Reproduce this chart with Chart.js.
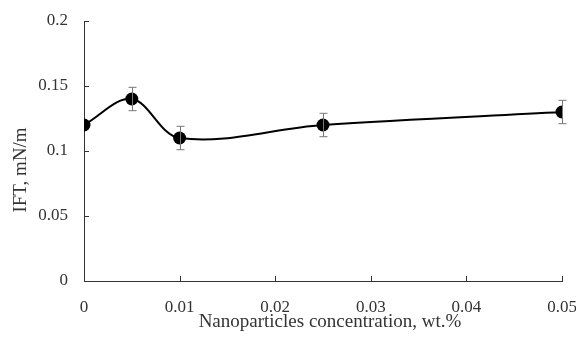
<!DOCTYPE html>
<html lang="en">
<head>
  <meta charset="UTF-8">
  <title>IFT vs nanoparticles concentration</title>
  <script src="https://cdn.jsdelivr.net/npm/chart.js@4"></script>
  <style>
    html, body { margin: 0; padding: 0; background: #fff; }
    #wrap { width: 576px; height: 340px; }
  </style>
</head>
<body>
<div id="wrap"><canvas id="iftChart"></canvas></div>
<script>
  const concentrations = [0, 0.005, 0.01, 0.025, 0.05];
  const iftValues = [0.12, 0.14, 0.11, 0.12, 0.13];
  const iftErrors = [0, 0.009, 0.009, 0.009, 0.009];
  const xTicks = [0, 0.01, 0.02, 0.03, 0.04, 0.05];
  const yTicks = [0, 0.05, 0.1, 0.15, 0.2];
  const xTitle = 'Nanoparticles concentration, wt.%';
  const yTitle = 'IFT, mN/m';

  const textColor = '#333';
  const font = 'Liberation Serif';

  // error bars, inward tick marks and axis titles
  const extras = {
    id: 'extras',
    afterDatasetsDraw(chart) {
      const ctx = chart.ctx;
      const xs = chart.scales.x, ys = chart.scales.y;
      ctx.save();
      ctx.strokeStyle = '#333';
      ctx.lineWidth = 1;
      xTicks.forEach(function (v) {
        const px = Math.round(xs.getPixelForValue(v)) + 0.5;
        ctx.beginPath();
        ctx.moveTo(px, ys.bottom);
        ctx.lineTo(px, ys.bottom - 5);
        ctx.stroke();
      });
      yTicks.forEach(function (v) {
        const py = Math.round(ys.getPixelForValue(v)) + 0.5;
        ctx.beginPath();
        ctx.moveTo(xs.left, py);
        ctx.lineTo(xs.left + 5, py);
        ctx.stroke();
      });
      ctx.strokeStyle = '#777';
      concentrations.forEach(function (c, i) {
        const e = iftErrors[i];
        if (!e) return;
        const px = Math.round(xs.getPixelForValue(c)) + 0.5;
        const top = ys.getPixelForValue(iftValues[i] + e);
        const bot = ys.getPixelForValue(iftValues[i] - e);
        ctx.beginPath();
        ctx.moveTo(px, top); ctx.lineTo(px, bot);
        ctx.moveTo(px - 4, top); ctx.lineTo(px + 4, top);
        ctx.moveTo(px - 4, bot); ctx.lineTo(px + 4, bot);
        ctx.stroke();
      });

      ctx.fillStyle = textColor;
      ctx.font = '19px "' + font + '"';
      ctx.textAlign = 'center';
      ctx.textBaseline = 'middle';
      ctx.fillText(xTitle, 330, 322);
      ctx.translate(21, 170);
      ctx.rotate(-Math.PI / 2);
      ctx.fillText(yTitle, 0, 0);
      ctx.restore();
    }
  };

  const noPad = s => { s.paddingLeft = 0; s.paddingRight = 0; s.paddingTop = 0; s.paddingBottom = 0; };

  new Chart('iftChart', {
    type: 'scatter',
    data: {
      datasets: [{
        data: concentrations.map((c, i) => ({ x: c, y: iftValues[i] })),
        showLine: true,
        borderColor: '#000',
        borderWidth: 2,
        backgroundColor: '#000',
        pointRadius: 6.5,
        pointBorderWidth: 0,
        pointHoverRadius: 6.5,
        tension: 0.35
      }]
    },
    options: {
      responsive: true,
      maintainAspectRatio: false,
      animation: false,
      layout: { padding: { top: 21, right: 14, left: 0, bottom: 0 } },
      plugins: { legend: { display: false }, tooltip: { enabled: false } },
      scales: {
        x: {
          type: 'linear',
          min: 0, max: 0.05,
          afterBuildTicks: s => { s.ticks = xTicks.map(v => ({ value: v })); },
          afterFit: s => { s.height = 59; noPad(s); },
          grid: { display: false, drawTicks: false },
          border: { display: true, color: '#333', width: 1 },
          ticks: { color: textColor, padding: 16, font: { family: font, size: 17 }, callback: v => String(v) }
        },
        y: {
          min: 0, max: 0.2,
          afterBuildTicks: s => { s.ticks = yTicks.map(v => ({ value: v })); },
          afterFit: s => { s.width = 84; noPad(s); },
          grid: { display: false, drawTicks: false },
          border: { display: true, color: '#333', width: 1 },
          ticks: { color: textColor, padding: 16, font: { family: font, size: 17 }, callback: v => String(v) }
        }
      }
    },
    plugins: [extras]
  });
</script>
</body>
</html>
